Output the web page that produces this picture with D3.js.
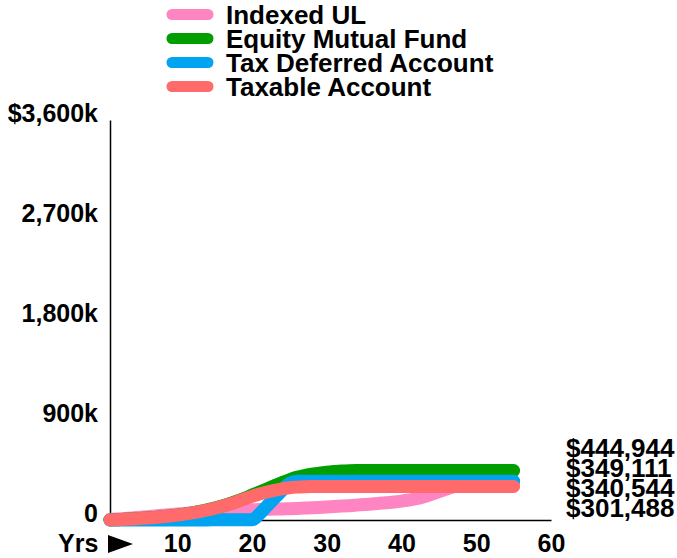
<!DOCTYPE html>
<html>
<head>
<meta charset="utf-8">
<script src="https://cdn.jsdelivr.net/npm/d3@7/dist/d3.min.js"></script>
<style>
    body { margin: 0; background: #fff; }
    svg { display: block; }
    text { font-family: "Liberation Sans", Arial, sans-serif; font-weight: bold; fill: #000; }
    .axis path { stroke: #000; stroke-width: 1.5; }
    .axis text { font-size: 25px; }
</style>
</head>
<body>
<div id="chart"></div>
<script>
// values in $k, years 1..55
var years = d3.range(1, 56);

var indexedUL = [5, 9, 14, 19, 25, 30, 36, 42, 48, 54, 59, 64, 69, 74, 79, 83, 86, 88, 90, 92,
    94, 96, 98, 100, 102, 104, 107, 110, 113, 117, 121, 125, 129, 134, 139, 144, 150, 156, 162, 170,
    180, 192, 210, 232, 255, 278, 300, 320, 334, 340, 340.544, 340.544, 340.544, 340.544, 340.544];

var equityFund = [0, 3, 6, 10, 14, 18, 23, 29, 36, 44, 53, 64, 77, 92, 108, 126, 146, 170, 196, 224,
    252, 280, 308, 336, 362, 384, 400, 412, 422, 430, 436, 441, 444, 444.944, 444.944, 444.944, 444.944, 444.944, 444.944, 444.944,
    444.944, 444.944, 444.944, 444.944, 444.944, 444.944, 444.944, 444.944, 444.944, 444.944, 444.944, 444.944, 444.944, 444.944, 444.944];

var taxDeferred = [0, 0, 0, 0, 0, 0, 0, 0, 1, 1, 1, 1, 1, 1, 2, 2, 2, 2, 2, 2,
    55, 125, 195, 265, 330, 349.111, 349.111, 349.111, 349.111, 349.111, 349.111, 349.111, 349.111, 349.111, 349.111, 349.111, 349.111, 349.111, 349.111, 349.111,
    349.111, 349.111, 349.111, 349.111, 349.111, 349.111, 349.111, 349.111, 349.111, 349.111, 349.111, 349.111, 349.111, 349.111, 349.111];

var taxable = [0, 3, 6, 10, 14, 18, 23, 29, 36, 44, 53, 64, 76, 90, 106, 124, 144, 166, 190, 213,
    234, 252, 267, 280, 290, 296, 300, 301.488, 301.488, 301.488, 301.488, 301.488, 301.488, 301.488, 301.488, 301.488, 301.488, 301.488, 301.488, 301.488,
    301.488, 301.488, 301.488, 301.488, 301.488, 301.488, 301.488, 301.488, 301.488, 301.488, 301.488, 301.488, 301.488, 301.488, 301.488];

var seriesNames = ["Indexed UL", "Equity Mutual Fund", "Tax Deferred Account", "Taxable Account"];
var seriesColors = ["#ff85c2", "#009e00", "#00a4f0", "#ff6b6b"];
var seriesValues = [indexedUL, equityFund, taxDeferred, taxable];

var yTicks = [0, 900, 1800, 2700, 3600];
var xTicks = [10, 20, 30, 40, 50, 60];

var width = 677, height = 558;

var svg = d3.select("#chart").append("svg")
    .attr("width", width)
    .attr("height", height);

var x = d3.scaleLinear().domain([1, 60]).range([110, 551]);
var y = d3.scaleLinear().domain([0, 3600]).range([520, 120]);

// axes
var yAxis = d3.axisLeft(y)
    .tickValues(yTicks)
    .tickSize(0)
    .tickPadding(12)
    .tickFormat(function (d) {
        if (d === 0) return "0";
        return (d === 3600 ? "$" : "") + d3.format(",")(d) + "k";
    });

svg.append("g")
    .attr("class", "axis")
    .attr("transform", "translate(110,0)")
    .call(yAxis)
    .selectAll("text").attr("dy", "0.04em");

var xAxis = d3.axisBottom(x)
    .tickValues(xTicks)
    .tickSize(0)
    .tickFormat(d3.format("d"));

svg.append("g")
    .attr("class", "axis")
    .attr("transform", "translate(0,520)")
    .call(xAxis)
    .selectAll("text").attr("y", 32).attr("dy", 0);

svg.selectAll(".axis .tick line").remove();

svg.append("text")
    .attr("x", 58)
    .attr("y", 552)
    .style("font-size", "25px")
    .text("Yrs");

svg.append("path")
    .attr("d", "M108,535L133,544L108,553Z")
    .attr("fill", "#000");

// lines
var line = d3.line()
    .x(function (d, i) { return x(years[i]); })
    .y(function (d) { return y(d); })
    .curve(d3.curveMonotoneX);

svg.selectAll("path.series")
    .data(seriesValues)
    .enter().append("path")
    .attr("class", "series")
    .attr("d", line)
    .attr("fill", "none")
    .attr("stroke", function (d, i) { return seriesColors[i]; })
    .attr("stroke-width", 13)
    .attr("stroke-linecap", "round")
    .attr("stroke-linejoin", "round");

// final values on the right
var finals = seriesValues.map(function (s) { return s[s.length - 1]; })
    .sort(function (a, b) { return b - a; });

svg.selectAll("text.final")
    .data(finals)
    .enter().append("text")
    .attr("class", "final")
    .attr("x", 566)
    .attr("y", function (d, i) { return 457 + i * 20; })
    .style("font-size", "26px")
    .text(function (d) { return d3.format("$,.0f")(d * 1000); });

// legend
var legend = svg.selectAll("g.legend")
    .data(seriesNames)
    .enter().append("g")
    .attr("class", "legend")
    .attr("transform", function (d, i) { return "translate(0," + (24 + i * 24) + ")"; });

legend.append("line")
    .attr("x1", 172).attr("x2", 208)
    .attr("y1", -9.5).attr("y2", -9.5)
    .attr("stroke", function (d, i) { return seriesColors[i]; })
    .attr("stroke-width", 11)
    .attr("stroke-linecap", "round");

legend.append("text")
    .attr("x", 226)
    .attr("y", 0)
    .style("font-size", "26px")
    .text(function (d) { return d; });
</script>
</body>
</html>
